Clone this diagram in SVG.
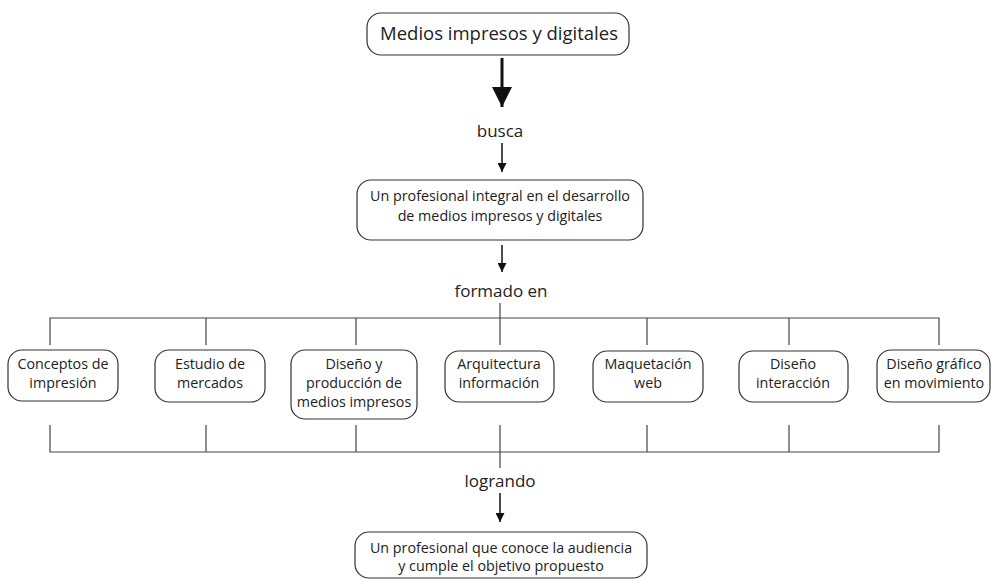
<svg xmlns="http://www.w3.org/2000/svg" width="992" height="582" viewBox="0 0 992 582">
<style>
.box{fill:#fff;stroke:#333;stroke-width:1.2}
.t{font-family:"Open Sans","Noto Sans",sans-serif;fill:#222;text-anchor:middle}
.s{font-size:14.3px}
.m{font-size:17px}
.l{font-size:18.5px}
.ln{stroke:#444;stroke-width:1.2;fill:none}
</style>
<defs>
<marker id="ah" viewBox="0 0 10 10" refX="10" refY="5" markerWidth="10" markerHeight="9" markerUnits="userSpaceOnUse" orient="auto"><path d="M0,0 L10,5 L0,10 z" fill="#111"/></marker>
<marker id="ahb" viewBox="0 0 10 10" refX="10" refY="5" markerWidth="20" markerHeight="20" markerUnits="userSpaceOnUse" orient="auto"><path d="M0,0 L10,5 L0,10 z" fill="#111"/></marker>
</defs>
<g id="connectors">
<line x1="502" y1="58" x2="502" y2="107" stroke="#111" stroke-width="3" marker-end="url(#ahb)"/>
<line x1="502" y1="143" x2="502" y2="172" stroke="#111" stroke-width="1.5" marker-end="url(#ah)"/>
<line x1="502" y1="245" x2="502" y2="272" stroke="#111" stroke-width="1.5" marker-end="url(#ah)"/>
<line class="ln" x1="500" y1="303" x2="500" y2="318"/>
<path class="ln" d="M50,345 V318 H939 V345 M206,318 V345 M356,318 V345 M500,318 V345 M647,318 V345 M789,318 V345"/>
<path class="ln" d="M50,425 V452 H939 V425 M206,425 V452 M356,425 V452 M500,425 V468 M647,425 V452 M789,425 V452"/>
<line x1="500" y1="493" x2="500" y2="522" stroke="#111" stroke-width="1.5" marker-end="url(#ah)"/>
</g>
<g id="n-top">
<rect class="box" x="367" y="13" width="262" height="42" rx="14"/>
<text class="t l" x="499" y="40">Medios impresos y digitales</text>
</g>
<g id="l-busca"><text class="t m" x="500" y="137">busca</text></g>
<g id="n-prof">
<rect class="box" x="357" y="180" width="286" height="60" rx="14"/>
<text class="t s" x="500" y="201">Un profesional integral en el desarrollo</text>
<text class="t s" x="500" y="221">de medios impresos y digitales</text>
</g>
<g id="l-formado"><text class="t m" x="501" y="297">formado en</text></g>
<g id="n1">
<rect class="box" x="8" y="350" width="110" height="51" rx="14"/>
<text class="t s" x="63" y="369">Conceptos de</text>
<text class="t s" x="63" y="388">impresión</text>
</g>
<g id="n2">
<rect class="box" x="155" y="350" width="110" height="52" rx="14"/>
<text class="t s" x="210" y="369">Estudio de</text>
<text class="t s" x="210" y="388">mercados</text>
</g>
<g id="n3">
<rect class="box" x="291" y="350" width="126" height="69" rx="14"/>
<text class="t s" x="354" y="369">Diseño y</text>
<text class="t s" x="354" y="388">producción de</text>
<text class="t s" x="354" y="407">medios impresos</text>
</g>
<g id="n4">
<rect class="box" x="445" y="351" width="109" height="51" rx="14"/>
<text class="t s" x="499" y="369">Arquitectura</text>
<text class="t s" x="499" y="388">información</text>
</g>
<g id="n5">
<rect class="box" x="593" y="351" width="110" height="51" rx="14"/>
<text class="t s" x="648" y="369">Maquetación</text>
<text class="t s" x="648" y="388">web</text>
</g>
<g id="n6">
<rect class="box" x="739" y="351" width="109" height="51" rx="14"/>
<text class="t s" x="793" y="369">Diseño</text>
<text class="t s" x="793" y="388">interacción</text>
</g>
<g id="n7">
<rect class="box" x="877" y="350" width="113" height="52" rx="14"/>
<text class="t s" x="934" y="369">Diseño gráfico</text>
<text class="t s" x="934" y="388">en movimiento</text>
</g>
<g id="l-logrando"><text class="t m" x="500" y="487">logrando</text></g>
<g id="n-final">
<rect class="box" x="355" y="532" width="292" height="46" rx="14"/>
<text class="t s" x="501" y="553">Un profesional que conoce la audiencia</text>
<text class="t s" x="501" y="571">y cumple el objetivo propuesto</text>
</g>
</svg>
